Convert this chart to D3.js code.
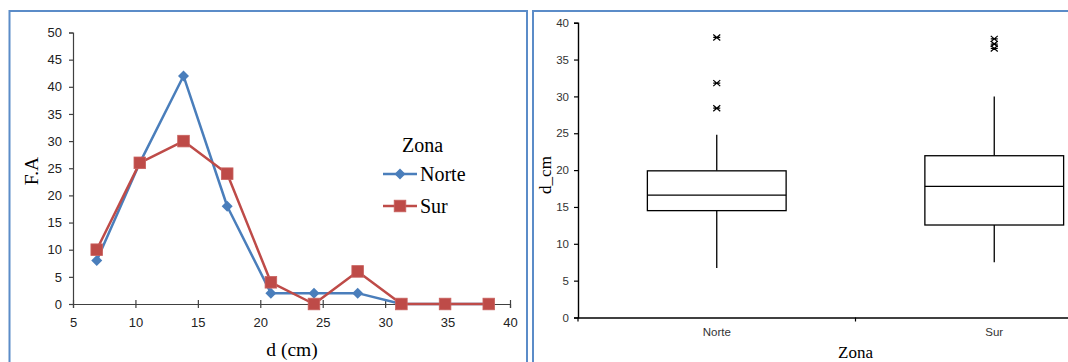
<!DOCTYPE html>
<html><head><meta charset="utf-8">
<script src="https://cdn.jsdelivr.net/npm/d3@7"></script>
<style>html,body{margin:0;padding:0;background:#fff;overflow:hidden}</style>
</head><body>
<svg id="c" width="1068" height="362"></svg>
<script>
// ---- Data: left chart (frequency polygon) ----
const classMarks = [6.9, 10.35, 13.85, 17.35, 20.85, 24.3, 27.8, 31.3, 34.8, 38.3];
const norteFA = [8, 26, 42, 18, 2, 2, 2, 0, 0, 0];
const surFA   = [10, 26, 30, 24, 4, 0, 6, 0, 0, 0];
const xTicksL = [5, 10, 15, 20, 25, 30, 35, 40];
const yTicksL = [0, 5, 10, 15, 20, 25, 30, 35, 40, 45, 50];
const seriesNames = ["Norte", "Sur"];

// ---- Data: right chart (box plots) ----
const zonas = ["Norte", "Sur"];
const boxMin    = [6.7, 7.5];
const boxQ1     = [14.5, 12.55];
const boxMedian = [16.6, 17.8];
const boxQ3     = [19.9, 21.95];
const boxMax    = [24.8, 30.0];
const outliersNorte = [38.0, 31.8, 28.4];
const outliersSur   = [37.8, 37.1, 36.5];
const yTicksR = [0, 5, 10, 15, 20, 25, 30, 35, 40];

const svg = d3.select("#c");
const blue = "#4a7ebb", red = "#be4b48";

// panel borders
svg.append("rect").attr("x", 9.5).attr("y", 11).attr("width", 517.5).attr("height", 400)
  .attr("fill", "none").attr("stroke", "#5b8cc8").attr("stroke-width", 2);
svg.append("rect").attr("x", 533).attr("y", 11).attr("width", 600).attr("height", 400)
  .attr("fill", "none").attr("stroke", "#5b8cc8").attr("stroke-width", 2);

// ================= LEFT CHART =================
const xL = d3.scaleLinear().domain([5, 40]).range([73, 510]);
const yL = d3.scaleLinear().domain([0, 50]).range([304, 32.5]);

const gxL = svg.append("g").attr("transform", `translate(0,${yL(0)})`)
  .call(d3.axisBottom(xL).tickValues(xTicksL).tickSize(4).tickPadding(10));
gxL.selectAll(".tick line").attr("y1", -4).attr("y2", 4);
const gyL = svg.append("g").attr("transform", `translate(${xL(5)},0)`)
  .call(d3.axisLeft(yL).tickValues(yTicksL).tickSize(4).tickPadding(7));
[gxL, gyL].forEach(g => {
  g.select(".domain").attr("stroke", "#404040").attr("stroke-width", 1.2);
  g.selectAll(".tick line").attr("stroke", "#404040").attr("stroke-width", 1.2);
  g.selectAll("text").attr("font-family", "Liberation Sans, Arial, sans-serif")
    .attr("font-size", 13).attr("fill", "#222");
});

const lineL = d3.line().x(d => xL(d[0])).y(d => yL(d[1]));
const serieData = [norteFA, surFA].map(arr => classMarks.map((m, i) => [m, arr[i]]));
const colors = [blue, red];

function diamond(g, x, y, s, c) {
  g.append("path").attr("d", `M${x},${y - s}L${x + s},${y}L${x},${y + s}L${x - s},${y}Z`).attr("fill", c);
}
function square(g, x, y, s, c) {
  g.append("rect").attr("x", x - s).attr("y", y - s).attr("width", 2 * s).attr("height", 2 * s)
    .attr("fill", c).attr("stroke", "#c9615e").attr("stroke-width", 0.8);
}

serieData.forEach((d, k) => {
  svg.append("path").datum(d).attr("d", lineL).attr("fill", "none")
    .attr("stroke", colors[k]).attr("stroke-width", 2.5).attr("stroke-linejoin", "round");
});
const mk = svg.append("g");
serieData[0].forEach(p => diamond(mk, xL(p[0]), yL(p[1]), 5.5, blue));
serieData[1].forEach(p => square(mk, xL(p[0]), yL(p[1]), 5.8, red));

// axis titles
svg.append("text").attr("x", 292).attr("y", 356).attr("text-anchor", "middle")
  .attr("font-family", "Liberation Serif, Times New Roman, serif").attr("font-size", 19.5)
  .text("d (cm)");
svg.append("text").attr("transform", "translate(38,171) rotate(-90)").attr("text-anchor", "middle")
  .attr("font-family", "Liberation Serif, Times New Roman, serif").attr("font-size", 19.5)
  .text("F.A");

// legend
const lg = svg.append("g").attr("font-family", "Liberation Serif, Times New Roman, serif").attr("font-size", 20);
lg.append("text").attr("x", 402).attr("y", 152).text("Zona");
seriesNames.forEach((n, k) => {
  const y = 174 + k * 32;
  lg.append("line").attr("x1", 383).attr("x2", 417).attr("y1", y).attr("y2", y)
    .attr("stroke", colors[k]).attr("stroke-width", 2.5);
  if (k === 0) diamond(lg, 400, y, 5.5, blue); else square(lg, 400, y, 5.8, red);
  lg.append("text").attr("x", 420).attr("y", y + 6.5).text(n);
});

// ================= RIGHT CHART =================
const xR = d3.scaleBand().domain(zonas).range([578, 1133]).padding(0);
const yR = d3.scaleLinear().domain([0, 40]).range([317.5, 22.7]);

const gyR = svg.append("g").attr("transform", `translate(${xR.range()[0]},0)`)
  .call(d3.axisLeft(yR).tickValues(yTicksR).tickSize(4).tickPadding(5));
const gxR = svg.append("g").attr("transform", `translate(0,${yR(0)})`)
  .call(d3.axisBottom(xR).tickSize(0).tickPadding(10));
[gxR, gyR].forEach(g => {
  g.select(".domain").attr("stroke", "#000").attr("stroke-width", 1.4);
  g.selectAll(".tick line").attr("stroke", "#000").attr("stroke-width", 1.2);
  g.selectAll("text").attr("font-family", "Liberation Sans, Arial, sans-serif")
    .attr("font-size", 11.5).attr("fill", "#333");
});
// category boundary ticks
const bounds = zonas.map(z => xR(z)).concat([xR.range()[1]]);
svg.append("g").selectAll("line").data(bounds).join("line")
  .attr("x1", d => d).attr("x2", d => d).attr("y1", yR(0)).attr("y2", yR(0) + 4)
  .attr("stroke", "#000").attr("stroke-width", 1.2);

// boxes
const bw = xR.bandwidth() * 0.5;
const bx = svg.append("g").attr("stroke", "#000").attr("stroke-width", 1.3).attr("fill", "none");
zonas.forEach((z, i) => {
  const cx = xR(z) + xR.bandwidth() / 2;
  bx.append("line").attr("x1", cx).attr("x2", cx).attr("y1", yR(boxMax[i])).attr("y2", yR(boxQ3[i]));
  bx.append("line").attr("x1", cx).attr("x2", cx).attr("y1", yR(boxQ1[i])).attr("y2", yR(boxMin[i]));
  bx.append("rect").attr("x", cx - bw / 2).attr("y", yR(boxQ3[i])).attr("width", bw)
    .attr("height", yR(boxQ1[i]) - yR(boxQ3[i])).attr("fill", "#fff");
  bx.append("line").attr("x1", cx - bw / 2).attr("x2", cx + bw / 2)
    .attr("y1", yR(boxMedian[i])).attr("y2", yR(boxMedian[i]));
  const outs = i === 0 ? outliersNorte : outliersSur;
  outs.forEach(v => {
    const y = yR(v);
    bx.append("path").attr("stroke-width", 1.2)
      .attr("d", `M${cx - 3.5},${y - 3}L${cx + 3.5},${y + 3}M${cx - 3.5},${y + 3}L${cx + 3.5},${y - 3}M${cx - 3.5},${y}L${cx + 3.5},${y}`);
  });
});

svg.append("text").attr("x", (xR.range()[0] + xR.range()[1]) / 2)
  .attr("y", 358).attr("text-anchor", "middle")
  .attr("font-family", "Liberation Serif, Times New Roman, serif").attr("font-size", 17).text("Zona");
svg.append("text").attr("transform", "translate(551,175) rotate(-90)").attr("text-anchor", "middle")
  .attr("font-family", "Liberation Serif, Times New Roman, serif").attr("font-size", 17).text("d_cm");
</script>
</body></html>
